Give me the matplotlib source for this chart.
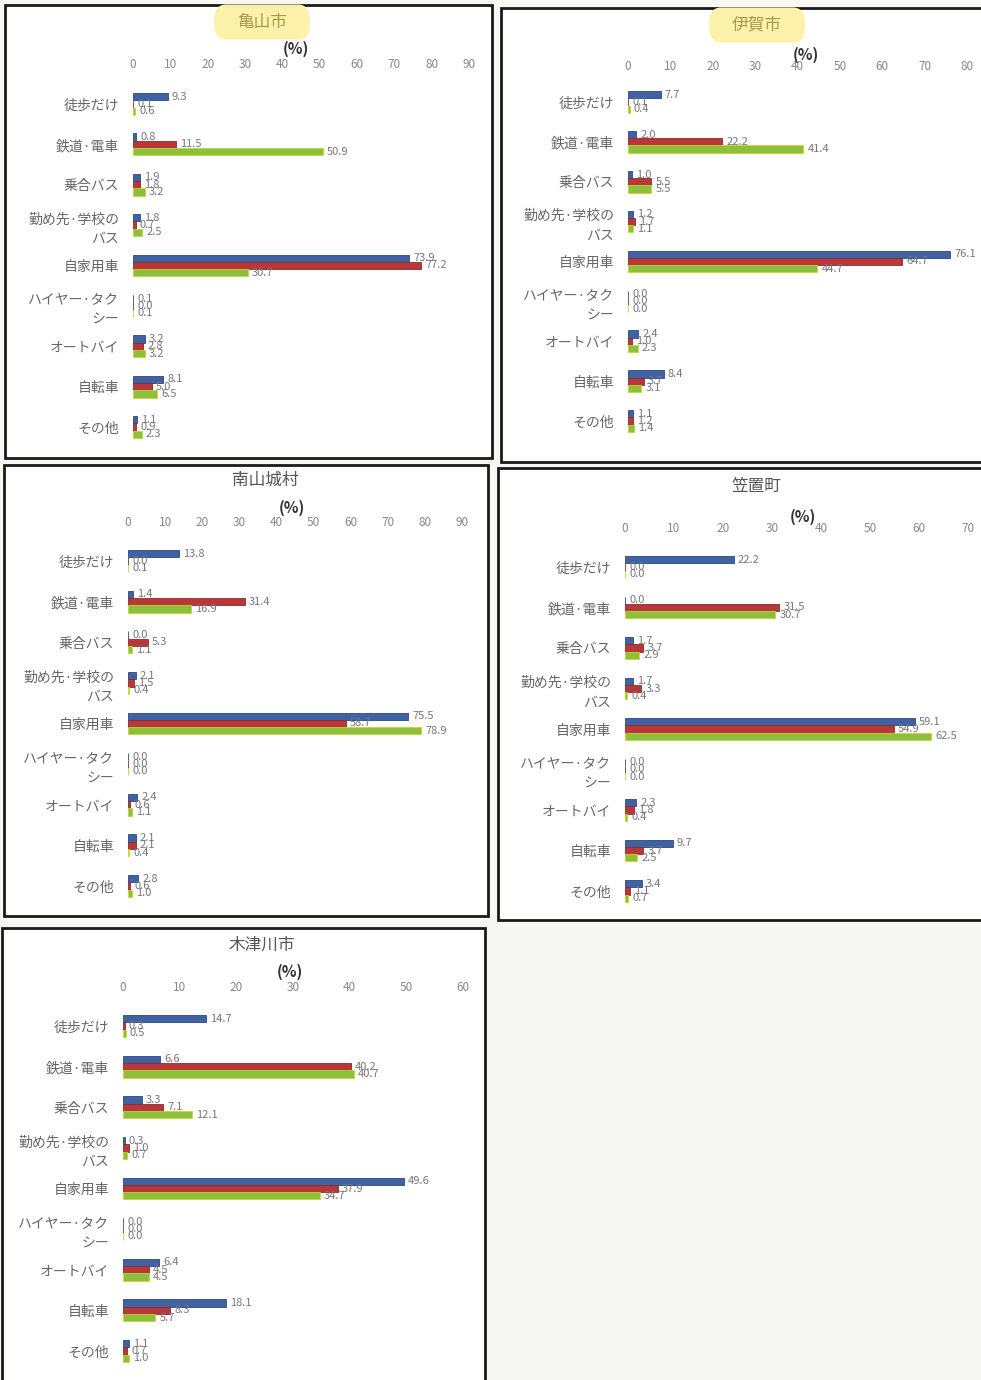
import matplotlib
matplotlib.use("Agg")
import matplotlib.pyplot as plt
from matplotlib.patches import Rectangle, FancyBboxPatch
import numpy as np

plt.rcParams['font.family'] = ['Noto Sans CJK JP', 'DejaVu Sans']

categories = ['徒歩だけ', '鉄道·電車', '乗合バス', '勤め先·学校の\nバス', '自家用車',
              'ハイヤー·タク\nシー', 'オートバイ', '自転車', 'その他']

# 亀山市
kameyama_1 = [9.3, 0.8, 1.9, 1.8, 73.9, 0.1, 3.2, 8.1, 1.1]
kameyama_2 = [0.1, 11.5, 1.8, 0.7, 77.2, 0.0, 2.8, 5.0, 0.9]
kameyama_3 = [0.6, 50.9, 3.2, 2.5, 30.7, 0.1, 3.2, 6.5, 2.3]
# 伊賀市
iga_1 = [7.7, 2.0, 1.0, 1.2, 76.1, 0.0, 2.4, 8.4, 1.1]
iga_2 = [0.1, 22.2, 5.5, 1.7, 64.7, 0.0, 1.0, 3.7, 1.2]
iga_3 = [0.4, 41.4, 5.5, 1.1, 44.7, 0.0, 2.3, 3.1, 1.4]
# 南山城村
minamiyamashiro_1 = [13.8, 1.4, 0.0, 2.1, 75.5, 0.0, 2.4, 2.1, 2.8]
minamiyamashiro_2 = [0.0, 31.4, 5.3, 1.5, 58.7, 0.0, 0.6, 2.1, 0.6]
minamiyamashiro_3 = [0.1, 16.9, 1.1, 0.4, 78.9, 0.0, 1.1, 0.4, 1.0]
# 笠置町
kasagi_1 = [22.2, 0.0, 1.7, 1.7, 59.1, 0.0, 2.3, 9.7, 3.4]
kasagi_2 = [0.0, 31.5, 3.7, 3.3, 54.9, 0.0, 1.8, 3.7, 1.1]
kasagi_3 = [0.0, 30.7, 2.9, 0.4, 62.5, 0.0, 0.4, 2.5, 0.7]
# 木津川市
kizugawa_1 = [14.7, 6.6, 3.3, 0.3, 49.6, 0.0, 6.4, 18.1, 1.1]
kizugawa_2 = [0.3, 40.2, 7.1, 1.0, 37.9, 0.0, 4.5, 8.3, 0.7]
kizugawa_3 = [0.5, 40.7, 12.1, 0.7, 34.7, 0.0, 4.5, 5.7, 1.0]

colors = ['#3f62a3', '#b8383a', '#8dbf3e']
edges = ['#2c4a80', '#8e2a2c', '#c9d62a']

W, H = 981, 1380
fig = plt.figure(figsize=(W / 100, H / 100), dpi=100)
fig.patch.set_facecolor('#f7f7f4')

# panel layout in pixels: frame, x of 0 / max, max, tick row y, first/last category y, title, (%)
panels = [
    dict(name='亀山市', data=(kameyama_1, kameyama_2, kameyama_3), frame=(5, 5, 492, 458),
         x0=133, x1=469, xmax=90, tick_y=66, c0=104, c8=427, title=(262, 22), pct=(296, 49), hl=True),
    dict(name='伊賀市', data=(iga_1, iga_2, iga_3), frame=(501, 8, 1000, 462),
         x0=628, x1=967, xmax=80, tick_y=68, c0=102, c8=421, title=(757, 25), pct=(806, 55), hl=True),
    dict(name='南山城村', data=(minamiyamashiro_1, minamiyamashiro_2, minamiyamashiro_3), frame=(4, 465, 488, 916),
         x0=128, x1=462, xmax=90, tick_y=524, c0=561, c8=886, title=(265, 480), pct=(292, 508), hl=False),
    dict(name='笠置町', data=(kasagi_1, kasagi_2, kasagi_3), frame=(498, 468, 1000, 920),
         x0=625, x1=968, xmax=70, tick_y=530, c0=567, c8=891, title=(756, 486), pct=(803, 517), hl=False),
    dict(name='木津川市', data=(kizugawa_1, kizugawa_2, kizugawa_3), frame=(2, 928, 485, 1400),
         x0=123, x1=463, xmax=60, tick_y=989, c0=1026, c8=1351, title=(262, 945), pct=(290, 972), hl=False),
]


def fx(px):
    return px / W


def fy(py):
    return 1 - py / H


for p in panels:
    l, t, r, b = p['frame']
    fig.patches.append(Rectangle((fx(l), fy(b)), fx(r - l), (b - t) / H, transform=fig.transFigure,
                                 facecolor='white', edgecolor='#1a1a1a', linewidth=2.0, zorder=0))
    if p['hl']:
        tx, ty = p['title']
        fig.patches.append(FancyBboxPatch((fx(tx - 44), fy(ty + 12)), fx(88), 24 / H,
                                          boxstyle='round,pad=0.004,rounding_size=0.012',
                                          transform=fig.transFigure, facecolor='#fbf1a8',
                                          edgecolor='none', zorder=1))
        tcol = '#a8984a'
    else:
        tcol = '#555555'
    fig.text(fx(p['title'][0]), fy(p['title'][1]), p['name'], ha='center', va='center',
             fontsize=12, color=tcol, zorder=3)
    fig.text(fx(p['pct'][0]), fy(p['pct'][1]), '(%)', ha='center', va='center',
             fontsize=11, fontweight='bold', color='#333333', zorder=3)

    sp = (p['c8'] - p['c0']) / 8
    top = p['c0'] - sp / 2
    bot = p['c8'] + sp / 2
    ax = fig.add_axes([fx(p['x0']), fy(bot), fx(p['x1'] - p['x0']), (bot - top) / H])
    ax.set_zorder(2)
    ax.set_facecolor('none')
    ax.set_xlim(0, p['xmax'])
    ax.set_ylim(len(categories) - 0.5, -0.5)

    y = np.arange(len(categories))
    bh = 0.18
    for k, vals in enumerate(p['data']):
        yy = y + (k - 1) * bh
        ax.barh(yy, vals, height=bh, color=colors[k], edgecolor=edges[k], linewidth=0.6)
        for yi, v in zip(yy, vals):
            ax.annotate(f'{v:.1f}', (v, yi), xytext=(3, 0), textcoords='offset points',
                        ha='left', va='center', fontsize=8, color='#777777',
                        annotation_clip=False)

    ax.xaxis.tick_top()
    ax.set_xticks(np.arange(0, p['xmax'] + 1, 10))
    pad = (top - p['tick_y'] - 5) * 0.72
    ax.tick_params(axis='x', length=0, pad=pad, labelsize=8.5, labelcolor='#888888')
    ax.set_yticks(y)
    ax.set_yticklabels(categories, fontsize=10, color='#666666', linespacing=1.5)
    ax.tick_params(axis='y', length=0, pad=10)
    for s in ax.spines.values():
        s.set_visible(False)

fig.savefig('out.png', dpi=100, facecolor=fig.get_facecolor())
